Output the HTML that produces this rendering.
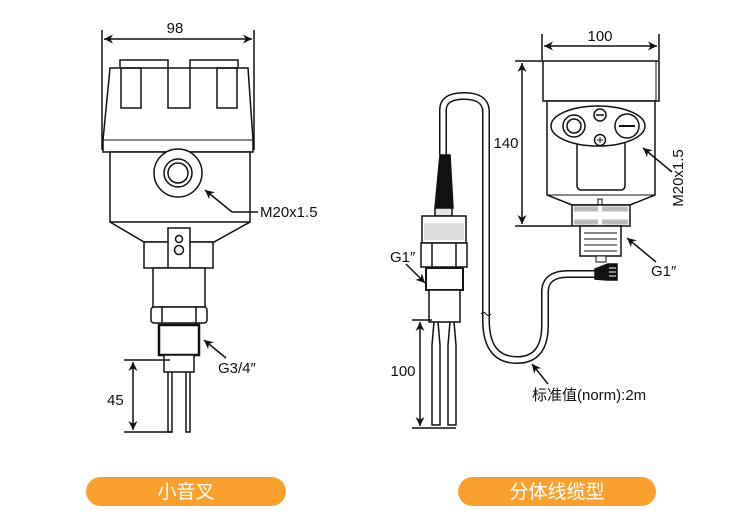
<!DOCTYPE html>
<html><head><meta charset="utf-8"><style>
body{margin:0;background:#fff;}
svg{display:block;font-family:"Liberation Sans","Noto Sans CJK SC",sans-serif;}
</style></head><body>
<svg width="750" height="524" viewBox="0 0 750 524" xmlns="http://www.w3.org/2000/svg">
<defs>
<marker id="a" viewBox="0 0 10 10" refX="10" refY="5" markerWidth="9" markerHeight="9" orient="auto-start-reverse" markerUnits="userSpaceOnUse"><path d="M0,0 L10,5 L0,10 L3,5 z" fill="#111"/></marker>
</defs>
<g fill="none" stroke="#111" stroke-width="1.5">
<!-- LEFT DEVICE -->
<line x1="102" y1="30" x2="102" y2="150"/>
<line x1="254" y1="30" x2="254" y2="150"/>
<line x1="104" y1="39" x2="252" y2="39" marker-start="url(#a)" marker-end="url(#a)"/>
<path d="M110,68 H248 L253,140 V152 H103 V140 Z" fill="#fff"/>
<path d="M120,67 V60 H168 V108 H190 V60 H238 V67"/>
<line x1="103" y1="140" x2="253" y2="140" stroke-width="1"/>
<rect x="121" y="68" width="20" height="40"/>
<rect x="217" y="68" width="20" height="40"/>
<path d="M110,152 H250 V222 L214,242 H144 L110,222 Z" fill="#fff"/>
<line x1="110" y1="222" x2="250" y2="222"/>
<circle cx="178" cy="173" r="24" fill="#fff"/>
<circle cx="178" cy="173" r="14"/>
<circle cx="178" cy="173" r="10"/>
<rect x="144" y="242" width="69" height="26" fill="#fff"/>
<rect x="168" y="228" width="22" height="40" fill="#fff"/>
<circle cx="179" cy="239" r="3.5"/>
<circle cx="179" cy="250" r="4.5"/>
<rect x="153" y="268" width="52" height="39" fill="#fff"/>
<rect x="151" y="307" width="56" height="16" rx="3" fill="#fff"/>
<line x1="162" y1="307" x2="162" y2="323"/><line x1="196" y1="307" x2="196" y2="323"/>
<rect x="159" y="325" width="40" height="30" stroke-width="2.5" fill="#fff"/>
<rect x="164" y="355" width="30" height="17" fill="#fff"/>
<path d="M168,372 V432 H172 V372 M186,372 V432 H190 V372"/>
<line x1="124" y1="360" x2="170" y2="360"/>
<line x1="124" y1="432" x2="172" y2="432"/>
<line x1="133" y1="362" x2="133" y2="430" marker-start="url(#a)" marker-end="url(#a)"/>
<polyline points="232,212 258,212"/>
<line x1="232" y1="212" x2="205" y2="190" marker-end="url(#a)"/>
<line x1="226" y1="358" x2="204" y2="340" marker-end="url(#a)"/>

<!-- RIGHT DEVICE -->
<line x1="542" y1="34" x2="542" y2="60"/>
<line x1="659" y1="34" x2="659" y2="60"/>
<line x1="544" y1="46" x2="657" y2="46" marker-start="url(#a)" marker-end="url(#a)"/>
<rect x="543" y="61" width="116" height="40" fill="#fff"/>
<line x1="656" y1="61" x2="656" y2="101" stroke-width="1"/>
<path d="M547,101 H655 V195 L630,205 H572 L547,195 Z" fill="#fff"/>
<line x1="547" y1="195" x2="655" y2="195" stroke-width="1"/>
<rect x="577" y="140" width="48" height="50" rx="4" fill="#fff"/>
<ellipse cx="598" cy="126" rx="47" ry="20" fill="#fff"/>
<circle cx="574" cy="126" r="11"/><circle cx="574" cy="126" r="7"/>
<circle cx="627" cy="126" r="12"/><line x1="619" y1="126" x2="635" y2="126" stroke-width="2"/>
<circle cx="600" cy="115" r="6"/><line x1="596" y1="115" x2="604" y2="115"/>
<circle cx="600" cy="140" r="5.5"/><path d="M597,140 H603 M600,137 V143" stroke-width="1"/>
<rect x="598" y="199" width="4" height="7" stroke-width="1"/>
<rect x="572" y="205" width="58" height="21" fill="#fff"/>
<path d="M574,209 H598 M602,209 H628 M574,222 H598 M602,222 H628" stroke="#bbb" stroke-width="5"/>
<rect x="580" y="226" width="41" height="30" fill="#fff"/>
<path d="M584,233 H617 M584,239 H617 M584,245 H617 M584,251 H617" stroke-width="1"/>
<line x1="515" y1="61" x2="543" y2="61"/>
<line x1="515" y1="226" x2="572" y2="226"/>
<line x1="522" y1="63" x2="522" y2="224" marker-start="url(#a)" marker-end="url(#a)"/>
<line x1="672" y1="172" x2="643" y2="148" marker-end="url(#a)"/>
<line x1="656" y1="262" x2="627" y2="238" marker-end="url(#a)"/>

<!-- cable -->
<path d="M443,155 V110 Q443,96 464,96 Q486,96 486,112 V320 Q486,360 517,360 Q545,360 545,325 V292 Q545,274 568,274 H595" stroke="#111" stroke-width="8"/>
<path d="M443,155 V110 Q443,96 464,96 Q486,96 486,112 V320 Q486,360 517,360 Q545,360 545,325 V292 Q545,274 568,274 H595" stroke="#fff" stroke-width="5"/>
<path d="M481,314 q3,-3 5,0 q2,3 5,0" stroke-width="1"/>
<path d="M595,269 L608,264 H617 V280 H607 L595,279 Z" fill="#111"/>
<path d="M609,268 H616 M609,272 H616 M609,276 H616" stroke="#fff" stroke-width="1"/>
<rect x="596" y="256" width="10" height="6" fill="#fff" stroke-width="1"/>

<!-- sensor -->
<path d="M440,155 H450 L453,208 H435 Z" fill="#111"/>
<rect x="435" y="208" width="17" height="8" fill="#e6e6e6"/>
<rect x="422" y="216" width="44" height="27" fill="#fff"/>
<rect x="424" y="223" width="40" height="17" fill="#ddd" stroke="none"/>
<rect x="421" y="243" width="46" height="24" fill="#fff"/>
<line x1="432" y1="243" x2="432" y2="267"/><line x1="456" y1="243" x2="456" y2="267"/>
<rect x="426" y="268" width="37" height="22" stroke-width="2" fill="#fff"/>
<rect x="429" y="290" width="31" height="32" fill="#fff"/>
<path d="M434,322 L432,345 V425 H440 V345 L438,322 M450,322 L448,345 V425 H456 V345 L454,322"/>
<line x1="412" y1="320" x2="432" y2="320"/>
<line x1="412" y1="428" x2="456" y2="428"/>
<line x1="420" y1="322" x2="420" y2="426" marker-start="url(#a)" marker-end="url(#a)"/>
<line x1="406" y1="264" x2="425" y2="283" marker-end="url(#a)"/>
<line x1="548" y1="384" x2="532" y2="364" marker-end="url(#a)"/>
</g>
<g fill="#111" font-size="15">
<text x="175" y="33" text-anchor="middle">98</text>
<text x="260" y="217">M20x1.5</text>
<text x="218" y="373">G3/4″</text>
<text x="107" y="405">45</text>
<text x="600" y="41" text-anchor="middle">100</text>
<text x="506" y="148" text-anchor="middle">140</text>
<text transform="translate(683,178) rotate(-90)" text-anchor="middle">M20x1.5</text>
<text x="651" y="276">G1″</text>
<text x="390" y="262">G1″</text>
<text x="403" y="376" text-anchor="middle">100</text>
<text x="532" y="400">标准值(norm):2m</text>
</g>
<rect x="86" y="477" width="200" height="29" rx="14.5" fill="#F9A02E"/>
<rect x="458" y="477" width="198" height="29" rx="14.5" fill="#F9A02E"/>
<g fill="#fff" font-size="19" text-anchor="middle">
<text x="186" y="498">小音叉</text>
<text x="557" y="498">分体线缆型</text>
</g>
</svg>
</body></html>
